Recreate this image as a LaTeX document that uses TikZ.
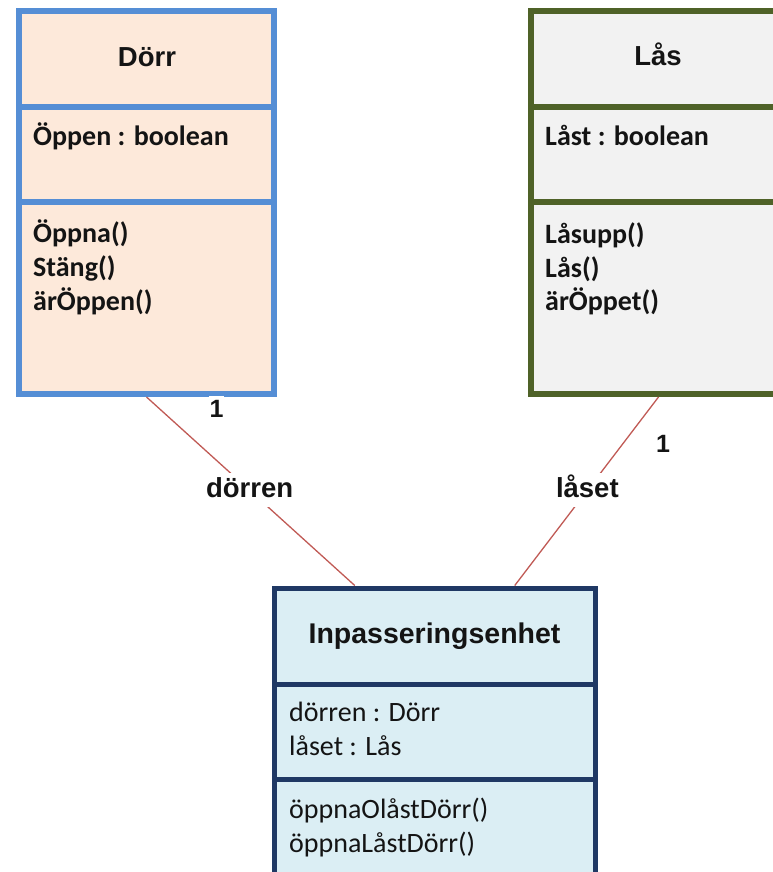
\documentclass[tikz,border=0pt]{standalone}
\usepackage{fontspec}
\setmainfont{Carlito}
\newfontfamily\headfont{Liberation Sans}

\definecolor{dorrline}{RGB}{85,142,213}
\definecolor{dorrfill}{RGB}{253,233,218}
\definecolor{lasline}{RGB}{79,98,40}
\definecolor{lasfill}{RGB}{242,242,242}
\definecolor{inpline}{RGB}{31,56,100}
\definecolor{inpfill}{RGB}{219,238,244}
\definecolor{assocline}{RGB}{192,90,85}
\definecolor{ink}{RGB}{20,20,20}

\tikzset{
  classbox/.style={inner sep=0pt, minimum width=255pt, minimum height=383pt},
  title/.style={anchor=base, inner sep=0pt, text=ink,
    font=\headfont\bfseries\fontsize{27.5}{33}\selectfont},
  member/.style={anchor=base west, inner sep=0pt, text=ink,
    font=\fontsize{28}{34}\selectfont\bfseries},
  plainmember/.style={anchor=base west, inner sep=0pt, text=ink,
    font=\fontsize{28}{34}\selectfont},
  assoc/.style={draw=assocline, line width=1.3pt},
  rolename/.style={fill=white, inner xsep=2pt, inner ysep=4pt, text=ink,
    text height=20pt, text depth=6pt,
    font=\headfont\bfseries\fontsize{27.5}{33}\selectfont},
  multiplicity/.style={anchor=base, fill=white, inner xsep=1pt, inner ysep=4pt, text=ink,
    font=\headfont\bfseries\fontsize{25}{30}\selectfont}
}

\begin{document}
\begin{tikzpicture}[x=1pt,y=-1pt]
\clip (0,0) rectangle (773,872);
\useasboundingbox (0,0) rectangle (773,872);

% class Dörr
\node[classbox, draw=dorrline, fill=dorrfill, line width=6pt] (dorr) at (146.5,202.5) {};
\draw[dorrline, line width=6pt] (19,107) -- (274,107) (19,202) -- (274,202);
\node[title] (dorrT) at (147,66.5) {Dörr};
\node[member] (dorrA) at (33,145) {Öppen : boolean};
\node[member] (dorrM1) at (33,242) {Öppna()};
\node[member] (dorrM2) at (33,276) {Stäng()};
\node[member] (dorrM3) at (33,310) {ärÖppen()};

% class Lås
\node[classbox, draw=lasline, fill=lasfill, line width=6pt] (las) at (658.5,202.5) {};
\draw[lasline, line width=6pt] (531,107) -- (786,107) (531,202) -- (786,202);
\node[title] (lasT) at (658,65.5) {Lås};
\node[member] (lasA) at (545,145) {Låst : boolean};
\node[member] (lasM1) at (545,243) {Låsupp()};
\node[member] (lasM2) at (545,277) {Lås()};
\node[member] (lasM3) at (545,310) {ärÖppet()};

% class Inpasseringsenhet
\node[draw=inpline, fill=inpfill, line width=5pt, inner sep=0pt,
      minimum width=320.5pt, minimum height=352pt] (inp) at (434.75,764) {};
\draw[inpline, line width=5pt] (274.5,684.5) -- (595,684.5) (274.5,779.5) -- (595,779.5);
\node[title, font=\headfont\bfseries\fontsize{28.5}{34}\selectfont] (inpT) at (434.5,643) {Inpasseringsenhet};
\node[plainmember] (inpA1) at (289,721) {dörren : Dörr};
\node[plainmember] (inpA2) at (289,755) {låset : Lås};
\node[plainmember] (inpM1) at (289,818) {öppnaOlåstDörr()};
\node[plainmember] (inpM2) at (289,852) {öppnaLåstDörr()};

% associations with role names
\draw[assoc] (dorr.south) -- node[rolename, pos=0.495] (roleD) {dörren} ([xshift=-80pt]inp.north);
\draw[assoc] (las.south) -- node[rolename, pos=0.495] (roleL) {låset} ([xshift=80pt]inp.north);

% multiplicities
\node[multiplicity] (multD) at (216.5,417) {1};
\node[multiplicity] (multL) at (663,452) {1};
\end{tikzpicture}
\end{document}
